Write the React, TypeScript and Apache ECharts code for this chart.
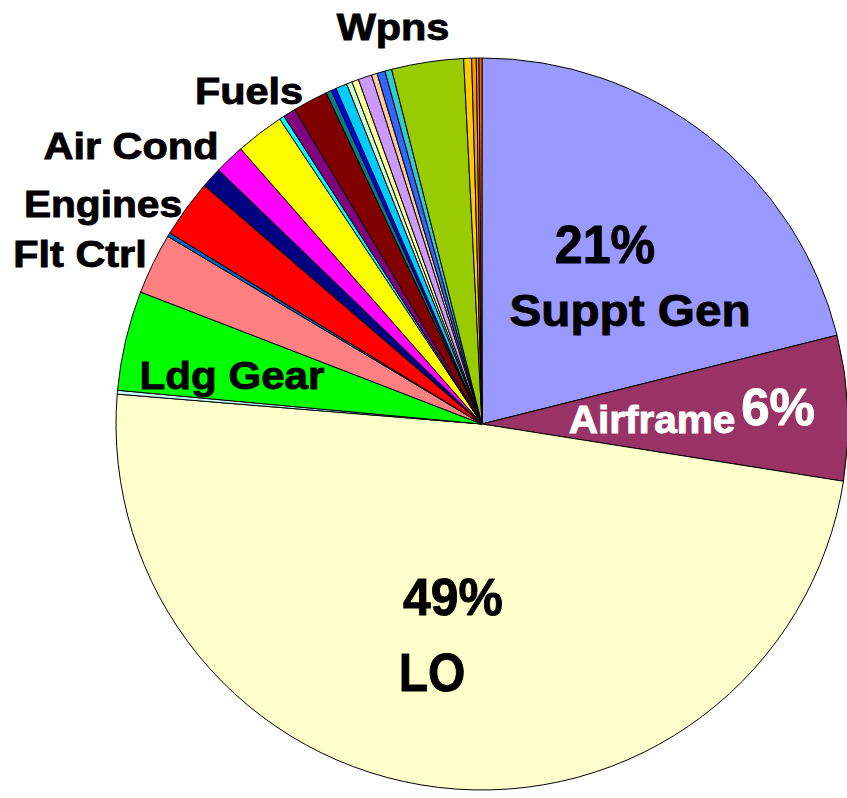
import React, { useEffect, useRef } from "react";
import * as echarts from "echarts";

// Slice names (clockwise from 12 o'clock)
const categories: string[] = [
  "Suppt Gen", "Airframe", "LO", "Misc A", "Ldg Gear", "Flt Ctrl", "Misc B",
  "Engines", "Misc C", "Air Cond", "Misc D", "Misc E", "Misc F", "Fuels",
  "Misc G", "Misc H", "Misc I", "Misc J", "Misc K", "Misc L", "Misc M",
  "Misc N", "Misc O", "Wpns", "Misc P", "Misc Q", "Misc R", "Misc S",
];

// Share of each slice, percent
const values: number[] = [
  21.1, 6.4, 48.8, 0.17, 4.4, 2.7, 0.17,
  2.55, 0.92, 1.33, 2.14, 0.22, 0.55, 1.55,
  0.25, 0.22, 0.5, 0.25, 0.3, 0.6, 0.25,
  0.36, 0.3, 3.17, 0.35, 0.2, 0.12, 0.13,
];

const colors: string[] = [
  "#9999ff", "#993366", "#ffffcc", "#ccffff", "#00ff00", "#ff8080", "#0066cc",
  "#ff0000", "#000080", "#ff00ff", "#ffff00", "#00ffff", "#800080", "#800000",
  "#008080", "#0000ff", "#00ccff", "#ccffcc", "#ffff99", "#cc99ff", "#ffcc99",
  "#3366ff", "#33cccc", "#99cc00", "#ffcc00", "#ff9900", "#ff9900", "#ff6600",
];

// Text labels drawn on the picture
const labelTexts: string[] = [
  "Wpns", "Fuels", "Air Cond", "Engines", "Flt Ctrl", "Ldg Gear",
  "21%", "Suppt Gen", "Airframe", "6%", "49%", "LO",
];

export default function App() {
  const ref = useRef<HTMLDivElement>(null);

  useEffect(() => {
    if (!ref.current) return;
    const chart = echarts.init(ref.current, undefined, { renderer: "svg" });

    const font = "'Liberation Sans', Arial, Helvetica, sans-serif";
    const lbl = (
      text: string, x: number, y: number, size: number, sx: number, fill = "#000"
    ) => ({
      type: "text",
      x,
      y,
      scaleX: sx,
      silent: true,
      z: 100,
      style: {
        text,
        fill,
        stroke: fill,
        lineWidth: 0.9,
        font: `bold ${size}px ${font}`,
        textAlign: "center",
        textVerticalAlign: "middle",
      },
    });

    const L = labelTexts;
    chart.setOption({
      animation: false,
      backgroundColor: "#ffffff",
      series: [
        {
          type: "pie",
          center: [482, 424],
          radius: [0, 366],
          startAngle: 90,
          clockwise: true,
          silent: true,
          label: { show: false },
          labelLine: { show: false },
          emphasis: { disabled: true },
          itemStyle: { borderColor: "#000", borderWidth: 1 },
          data: categories.map((name, i) => ({
            name,
            value: values[i],
            itemStyle: { color: colors[i] },
          })),
        },
      ],
      graphic: [
        lbl(L[0], 393, 27, 37, 1.12),
        lbl(L[1], 249, 91, 37, 1.12),
        lbl(L[2], 131, 146, 37, 1.12),
        lbl(L[3], 103, 204, 37, 1.1),
        lbl(L[4], 80, 254, 37, 1.12),
        lbl(L[5], 232, 376, 39, 1.08),
        lbl(L[6], 605, 244, 54, 0.93),
        lbl(L[7], 630, 310, 45, 1.06),
        lbl(L[8], 652, 419, 39, 1.04, "#ffffff"),
        lbl(L[9], 778, 407, 51, 1.0, "#ffffff"),
        lbl(L[10], 453, 597, 52, 0.96),
        lbl(L[11], 432, 673, 54, 0.89),
      ],
    });

    return () => chart.dispose();
  }, []);

  return (
    <div
      ref={ref}
      style={{ position: "fixed", left: 0, top: 0, width: 847, height: 798 }}
    />
  );
}
